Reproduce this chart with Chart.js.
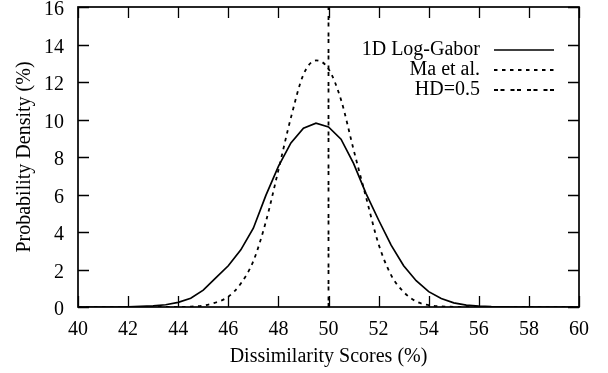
<!DOCTYPE html>
<html>
<head>
<meta charset="utf-8">
<script src="https://cdn.jsdelivr.net/npm/chart.js@4"></script>
<style>
    html, body { margin: 0; padding: 0; background: #fff; }
    #wrap { width: 608px; height: 373px; }
</style>
</head>
<body>
<div id="wrap"><canvas id="densityChart" width="608" height="373"></canvas></div>
<script>
// 橫軸取樣點 (相異度分數 %)
const scores = [40, 40.5, 41, 41.5, 42, 42.5, 43, 43.5, 44, 44.5,
                45, 45.5, 46, 46.5, 47, 47.5, 48, 48.5, 49, 49.5,
                50, 50.5, 51, 51.5, 52, 52.5, 53, 53.5, 54, 54.5,
                55, 55.5, 56, 56.5, 57, 57.5, 58, 58.5, 59, 59.5, 60];

// 1D Log-Gabor 機率密度 (%)
const logGabor = [0, 0, 0, 0, 0.01, 0.03, 0.06, 0.12, 0.25, 0.47,
                  0.9, 1.55, 2.2, 3.05, 4.2, 5.95, 7.5, 8.75, 9.53, 9.8,
                  9.6, 8.95, 7.66, 6.05, 4.64, 3.3, 2.2, 1.4, 0.82, 0.45,
                  0.22, 0.1, 0.05, 0.02, 0.01, 0, 0, 0, 0, 0, 0];

// Ma et al. 機率密度 (%)
const maEtAl = [0, 0, 0, 0, 0, 0, 0, 0, 0, 0.02,
                0.07, 0.24, 0.55, 1.25, 2.45, 4.55, 7.3, 10.1, 12.4, 13.15,
                12.7, 11.05, 8.4, 5.85, 3.35, 1.7, 0.8, 0.3, 0.1, 0.03,
                0.01, 0, 0, 0, 0, 0, 0, 0, 0, 0, 0];

// HD=0.5 參考線
const hdX = [50, 50];
const hdY = [0, 16];

// 刻度
const xTicks = [40, 42, 44, 46, 48, 50, 52, 54, 56, 58, 60];
const yTicks = [0, 2, 4, 6, 8, 10, 12, 14, 16];

const FONT_FAMILY = '"Liberation Serif", "Times New Roman", serif';
const INK = '#000';
const TICK_LEN = 11;

function toPoints(xs, ys) {
    return xs.map((x, i) => ({ x: x, y: ys[i] }));
}

// 外框 + 四邊向內刻度
const frameTicks = {
    id: 'frameTicks',
    afterDatasetsDraw(chart) {
        const ctx = chart.ctx;
        const { left, right, top, bottom } = chart.chartArea;
        const xs = chart.scales.x;
        const ys = chart.scales.y;
        ctx.save();
        ctx.strokeStyle = INK;
        ctx.setLineDash([]);
        ctx.lineWidth = 1.3;
        ctx.beginPath();
        xTicks.forEach(v => {
            const px = Math.round(xs.getPixelForValue(v)) + 0.5;
            ctx.moveTo(px, bottom);
            ctx.lineTo(px, bottom - TICK_LEN);
            ctx.moveTo(px, top);
            ctx.lineTo(px, top + TICK_LEN);
        });
        yTicks.forEach(v => {
            const py = Math.round(ys.getPixelForValue(v)) + 0.5;
            ctx.moveTo(left, py);
            ctx.lineTo(left + TICK_LEN, py);
            ctx.moveTo(right, py);
            ctx.lineTo(right - TICK_LEN, py);
        });
        ctx.stroke();
        ctx.lineWidth = 1.7;
        ctx.strokeRect(left, top, right - left, bottom - top);
        ctx.restore();
    }
};

// 圖例: 文字靠右, 線樣在右側
const insideLegend = {
    id: 'insideLegend',
    afterDatasetsDraw(chart) {
        const ctx = chart.ctx;
        const textRight = 480;
        const lineStart = 494;
        const lineEnd = 554;
        let rowY = 50;
        ctx.save();
        ctx.font = '20px ' + FONT_FAMILY;
        ctx.fillStyle = INK;
        ctx.textAlign = 'right';
        ctx.textBaseline = 'middle';
        chart.data.datasets.forEach(ds => {
            ctx.fillText(ds.label, textRight, rowY);
            ctx.beginPath();
            ctx.setLineDash(ds.borderDash || []);
            ctx.lineWidth = ds.borderWidth;
            ctx.strokeStyle = ds.borderColor;
            ctx.moveTo(lineStart, rowY);
            ctx.lineTo(lineEnd, rowY);
            ctx.stroke();
            rowY += 20;
        });
        ctx.restore();
    }
};

function initChart() {
    const ctx = document.getElementById('densityChart');
    const labelFont = { family: FONT_FAMILY, size: 20 };

    new Chart(ctx, {
        type: 'line',
        data: {
            datasets: [
                {
                    label: '1D Log-Gabor',
                    data: toPoints(scores, logGabor),
                    borderColor: INK,
                    borderWidth: 1.7,
                    pointRadius: 0,
                    tension: 0
                },
                {
                    label: 'Ma et al.',
                    data: toPoints(scores, maEtAl),
                    borderColor: INK,
                    borderWidth: 1.8,
                    borderDash: [3.5, 4.5],
                    pointRadius: 0,
                    cubicInterpolationMode: 'monotone'
                },
                {
                    label: 'HD=0.5',
                    data: toPoints(hdX, hdY),
                    borderColor: INK,
                    borderWidth: 1.8,
                    borderDash: [4, 2.5, 4, 6],
                    pointRadius: 0
                }
            ]
        },
        options: {
            responsive: false,
            animation: false,
            devicePixelRatio: 1,
            layout: { padding: { top: 7, right: 29, bottom: 0, left: 0 } },
            plugins: {
                legend: { display: false },
                tooltip: { enabled: false }
            },
            scales: {
                x: {
                    type: 'linear',
                    min: 40,
                    max: 60,
                    afterBuildTicks: scale => {
                        scale.ticks = xTicks.map(v => ({ value: v }));
                    },
                    afterFit: scale => {
                        scale.height = 66;
                        scale.paddingLeft = 0;
                        scale.paddingRight = 0;
                    },
                    grid: { display: false, drawTicks: false },
                    border: { display: false },
                    ticks: { font: labelFont, color: INK, padding: 11, maxRotation: 0, autoSkip: false },
                    title: {
                        display: true, text: 'Dissimilarity Scores (%)', font: labelFont, color: INK,
                        padding: { top: 0, bottom: 4 }
                    }
                },
                y: {
                    type: 'linear',
                    min: 0,
                    max: 16,
                    afterBuildTicks: scale => {
                        scale.ticks = yTicks.map(v => ({ value: v }));
                    },
                    afterFit: scale => {
                        scale.width = 78;
                        scale.paddingTop = 0;
                        scale.paddingBottom = 0;
                    },
                    grid: { display: false, drawTicks: false },
                    border: { display: false },
                    ticks: { font: labelFont, color: INK, padding: 14, labelOffset: 3, autoSkip: false },
                    title: {
                        display: true, text: 'Probability Density (%)', font: labelFont, color: INK,
                        padding: { top: 13, bottom: 0 }
                    }
                }
            }
        },
        plugins: [frameTicks, insideLegend]
    });
}

document.addEventListener('DOMContentLoaded', () => {
    initChart();
});
</script>
</body>
</html>
